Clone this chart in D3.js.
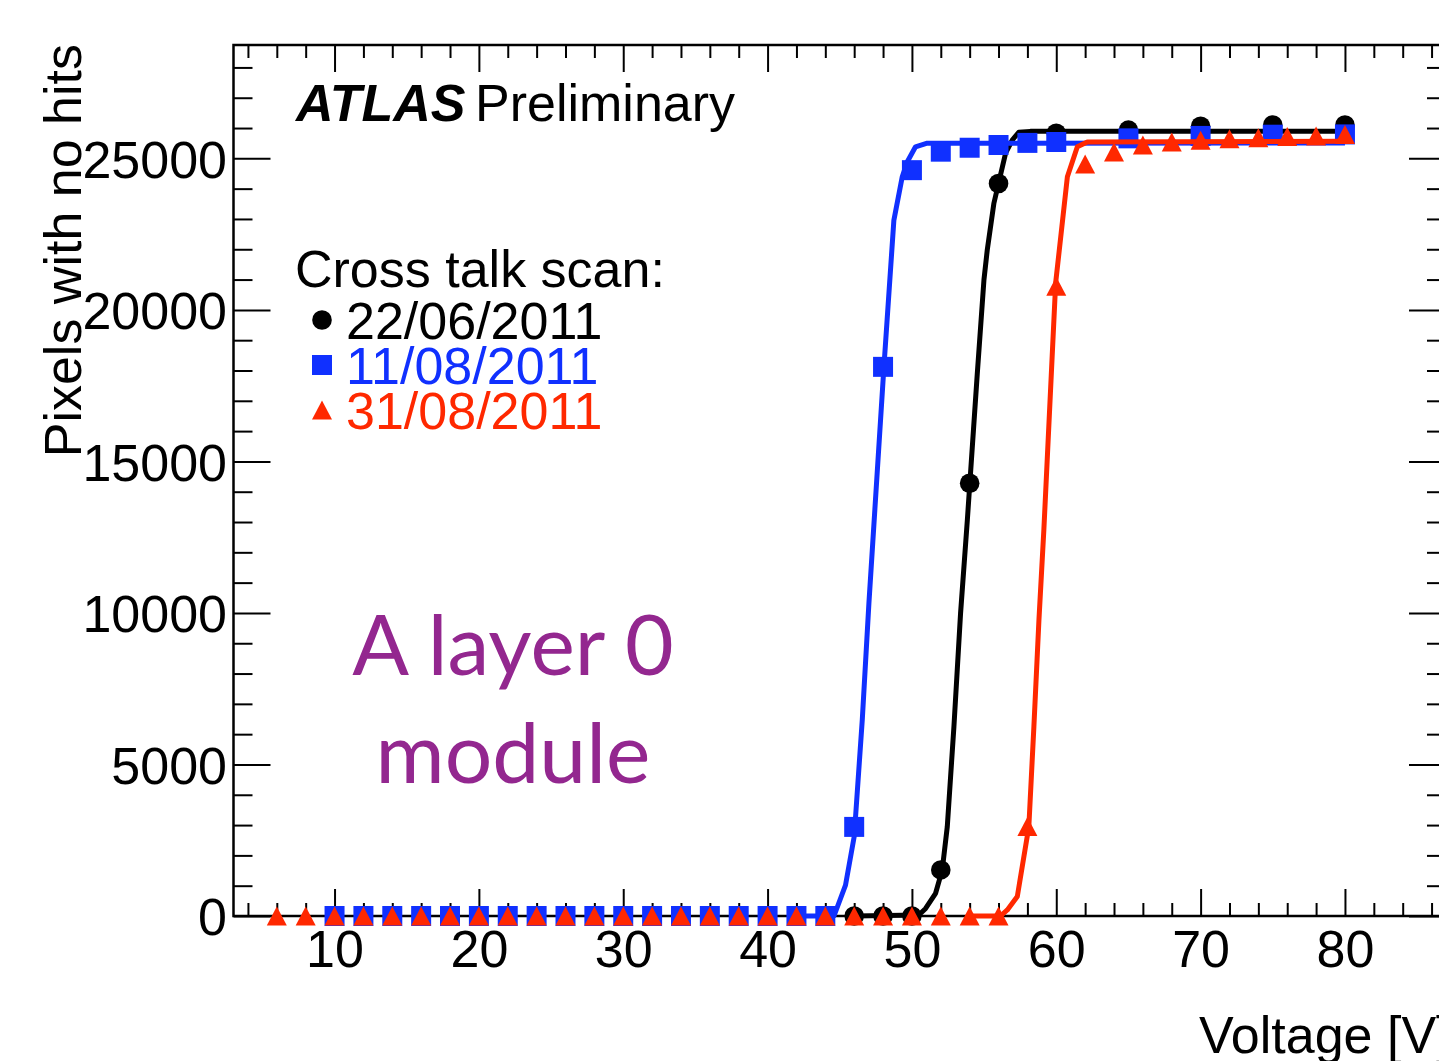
<!DOCTYPE html>
<html>
<head>
<meta charset="utf-8">
<script src="https://cdn.jsdelivr.net/npm/d3@7"></script>
<style>
  html, body { margin: 0; padding: 0; background: #ffffff; }
  svg { display: block; }
</style>
</head>
<body>
<script>
// ---------------- data ----------------
const seriesLabels = ["22/06/2011", "11/08/2011", "31/08/2011"];
const seriesColors = ["#000000", "#1030ff", "#ff2800"];

// 22/06/2011 (black circles)
const blackVoltage = [46, 48, 50, 52, 54, 56, 60, 65, 70, 75, 80];
const blackPixels  = [0, 0, 0, 1520, 14280, 24170, 25830, 25930, 26060, 26100, 26100];

// 11/08/2011 (blue squares)
const blueVoltage = [10, 12, 14, 16, 18, 20, 22, 24, 26, 28, 30, 32, 34, 36, 38, 40, 42, 44,
                     46, 48, 50, 52, 54, 56, 58, 60, 65, 70, 75, 80];
const bluePixels  = [0, 0, 0, 0, 0, 0, 0, 0, 0, 0, 0, 0, 0, 0, 0, 0, 0, 0,
                     2940, 18120, 24610, 25220, 25350, 25440, 25510, 25540, 25660, 25740, 25780, 25790];

// 31/08/2011 (red triangles)
const redVoltage = [6, 8, 10, 12, 14, 16, 18, 20, 22, 24, 26, 28, 30, 32, 34, 36, 38, 40, 42, 44,
                    46, 48, 50, 52, 54, 56, 58, 60, 62, 64, 66, 68, 70, 72, 74, 76, 78, 80];
const redPixels  = [0, 0, 0, 0, 0, 0, 0, 0, 0, 0, 0, 0, 0, 0, 0, 0, 0, 0, 0, 0,
                    0, 0, 0, 0, 0, 0, 2950, 20780, 24810, 25210, 25440, 25540, 25600, 25650, 25680, 25720, 25740, 25790];

// fitted curves (polyline vertices)
const blackFitVoltage = [46, 50.48, 50.95, 51.64, 52.1, 52.45, 52.91, 53.37, 53.84, 54.53, 54.99, 55.22, 55.68, 56.49, 56.95, 57.4, 58.2, 80];
const blackFitPixels  = [0, 30, 250, 750, 1520, 2950, 6250, 9990, 13070, 17910, 20990, 21980, 23520, 25170, 25600, 25860, 25890, 25890];

const blueFitVoltage = [42, 44.6, 45.4, 46.0, 46.56, 47.02, 48.06, 48.75, 49.33, 49.68, 50.25, 51.06, 80];
const blueFitPixels  = [0, 0, 1020, 2620, 6470, 10320, 18120, 22960, 24390, 24890, 25380, 25500, 25510];

const redFitVoltage = [54, 56.14, 56.61, 57.3, 58.1, 58.45, 58.8, 59.14, 59.96, 60.77, 61.46, 62.15, 80];
const redFitPixels  = [0, 0, 200, 640, 2950, 6250, 9770, 12740, 20900, 24390, 25380, 25540, 25560];

// axes
const xDomain = [3, 87];
const yDomain = [0, 28740];
const xMajorTicks = [10, 20, 30, 40, 50, 60, 70, 80];
const xTickLabels = ["10", "20", "30", "40", "50", "60", "70", "80"];
const xMinorTicks = [4, 6, 8, 12, 14, 16, 18, 22, 24, 26, 28, 32, 34, 36, 38, 42, 44, 46, 48,
                     52, 54, 56, 58, 62, 64, 66, 68, 72, 74, 76, 78, 82, 84, 86];
const yMajorTicks = [0, 5000, 10000, 15000, 20000, 25000];
const yTickLabels = ["0", "5000", "10000", "15000", "20000", "25000"];
const yMinorTicks = [1000, 2000, 3000, 4000, 6000, 7000, 8000, 9000, 11000, 12000, 13000, 14000,
                     16000, 17000, 18000, 19000, 21000, 22000, 23000, 24000, 26000, 27000, 28000];

const xTitle = "Voltage [V]";
const yTitle = "Pixels with no hits";
const legendTitle = "Cross talk scan:";
const annotationLines = ["A layer 0", "module"];

// ---------------- drawing ----------------
const W = 1439, H = 1061;
const FL = 233.5, FR = 1446, FT = 45, FB = 916;
const FONT = "'Liberation Sans', Arial, Helvetica, sans-serif";
const FS = 52;

const svg = d3.select("body").append("svg").attr("width", W).attr("height", H);
svg.append("rect").attr("width", W).attr("height", H).attr("fill", "#fff");

const x = d3.scaleLinear().domain(xDomain).range([FL, FR]);
const y = d3.scaleLinear().domain(yDomain).range([FB, FT]);

function styleAxis(g) {
  g.select(".domain").remove();
  g.selectAll(".tick line").attr("stroke", "#000").attr("stroke-width", 2);
  g.selectAll(".tick text").attr("fill", "#000").style("font-family", FONT).style("font-size", FS + "px");
}

// bottom axis
svg.append("g").attr("transform", `translate(0,${FB})`)
  .call(d3.axisBottom(x).tickValues(xMinorTicks).tickSize(-13).tickFormat(""))
  .call(styleAxis);
svg.append("g").attr("transform", `translate(0,${FB})`)
  .call(d3.axisBottom(x).tickValues(xMajorTicks).tickSize(-27).tickPadding(14)
        .tickFormat((d, i) => xTickLabels[i]))
  .call(styleAxis);
// top axis
svg.append("g").attr("transform", `translate(0,${FT})`)
  .call(d3.axisTop(x).tickValues(xMinorTicks).tickSize(-13).tickFormat(""))
  .call(styleAxis);
svg.append("g").attr("transform", `translate(0,${FT})`)
  .call(d3.axisTop(x).tickValues(xMajorTicks).tickSize(-27).tickFormat(""))
  .call(styleAxis);
// left axis
svg.append("g").attr("transform", `translate(${FL},0)`)
  .call(d3.axisLeft(y).tickValues(yMinorTicks).tickSize(-19).tickFormat(""))
  .call(styleAxis);
const leftMajor = svg.append("g").attr("transform", `translate(${FL},0)`)
  .call(d3.axisLeft(y).tickValues(yMajorTicks).tickSize(-37).tickPadding(6.5)
        .tickFormat((d, i) => yTickLabels[i]))
  .call(styleAxis);
leftMajor.selectAll(".tick text").attr("dy", "0.36em");
// right axis
svg.append("g").attr("transform", `translate(${FR},0)`)
  .call(d3.axisRight(y).tickValues(yMinorTicks).tickSize(-19).tickFormat(""))
  .call(styleAxis);
svg.append("g").attr("transform", `translate(${FR},0)`)
  .call(d3.axisRight(y).tickValues(yMajorTicks).tickSize(-37).tickFormat(""))
  .call(styleAxis);

// frame
svg.append("rect").attr("x", FL).attr("y", FT).attr("width", FR - FL).attr("height", FB - FT)
  .attr("fill", "none").attr("stroke", "#000").attr("stroke-width", 2.5);

// axis titles
svg.append("text").attr("x", 1199).attr("y", 1053)
  .style("font-family", FONT).style("font-size", FS + "px").text(xTitle);
svg.append("text").attr("transform", "translate(81,44) rotate(-90)")
  .attr("text-anchor", "end")
  .style("font-family", FONT).style("font-size", FS + "px").text(yTitle);

// markers
const triangleType = {
  draw(ctx, size) {
    const h = Math.sqrt(size) / 2;
    ctx.moveTo(0, -h * 0.95);
    ctx.lineTo(h, h * 0.95);
    ctx.lineTo(-h, h * 0.95);
    ctx.closePath();
  }
};
const markerPath = [
  d3.symbol().type(d3.symbolCircle).size(Math.PI * 9.8 * 9.8)(),
  d3.symbol().type(d3.symbolSquare).size(20 * 20)(),
  d3.symbol().type(triangleType).size(20 * 20)()
];

const lineGen = d3.line().x(d => x(d[0])).y(d => y(d[1]));
const plot = svg.append("g");

const series = [
  { vx: blackVoltage, vy: blackPixels, fx: blackFitVoltage, fy: blackFitPixels },
  { vx: blueVoltage, vy: bluePixels, fx: blueFitVoltage, fy: blueFitPixels },
  { vx: redVoltage, vy: redPixels, fx: redFitVoltage, fy: redFitPixels }
];

series.forEach((s, k) => {
  const g = plot.append("g");
  g.append("path")
    .attr("d", lineGen(s.fx.map((v, i) => [v, s.fy[i]])))
    .attr("fill", "none").attr("stroke", seriesColors[k])
    .attr("stroke-width", 5).attr("stroke-linejoin", "round");
  g.selectAll("path.pt").data(s.vx.map((v, i) => [v, s.vy[i]])).enter()
    .append("path").attr("class", "pt")
    .attr("d", markerPath[k])
    .attr("transform", d => `translate(${x(d[0])},${y(d[1])})`)
    .attr("fill", seriesColors[k]);
});

// ATLAS label
const atlas = svg.append("text").attr("x", 296).attr("y", 121)
  .style("font-family", FONT).style("font-size", FS + "px");
atlas.append("tspan").style("font-weight", "bold").style("font-style", "italic").text("ATLAS");
svg.append("text").attr("x", 475).attr("y", 121)
  .style("font-family", FONT).style("font-size", FS + "px").text("Preliminary");

// legend
svg.append("text").attr("x", 295).attr("y", 287)
  .style("font-family", FONT).style("font-size", FS + "px").text(legendTitle);
const legendY = [339, 384, 429];
seriesLabels.forEach((lab, k) => {
  svg.append("path").attr("d", markerPath[k])
    .attr("transform", `translate(322,${legendY[k] - 19})`)
    .attr("fill", seriesColors[k]);
  svg.append("text").attr("x", 346).attr("y", legendY[k])
    .attr("fill", seriesColors[k])
    .style("font-family", FONT).style("font-size", FS + "px").text(lab);
});

// annotation
const annY = [675, 783];
annotationLines.forEach((t, i) => {
  svg.append("text").attr("x", 513).attr("y", annY[i]).attr("text-anchor", "middle")
    .attr("fill", "#93278f")
    .style("font-family", "Lato, 'Open Sans', sans-serif").style("font-size", "84px").text(t);
});
</script>
</body>
</html>
